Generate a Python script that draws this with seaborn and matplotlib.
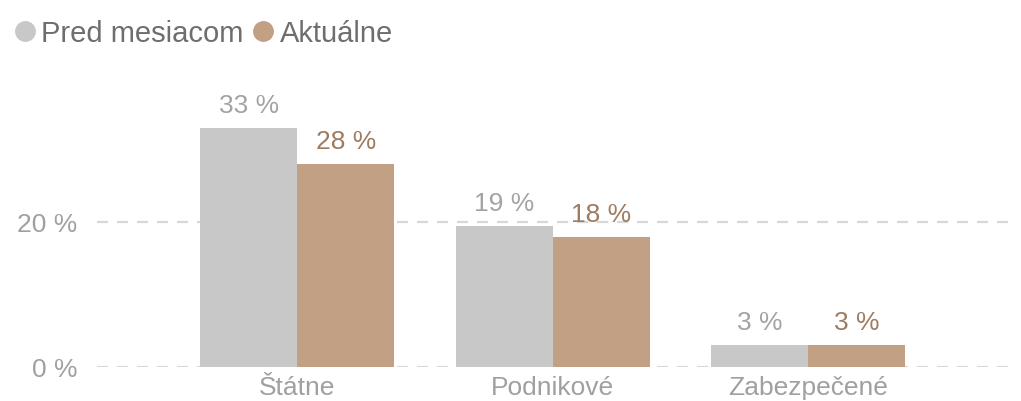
import pandas as pd
import matplotlib
matplotlib.use("Agg")
import matplotlib.pyplot as plt
from matplotlib.lines import Line2D
import seaborn as sns

# Données
categories = ["Štátne", "Podnikové", "Zabezpečené"]
pred_mesiacom = [33, 19.4, 3]
aktualne = [28, 17.9, 3]
series = ["Pred mesiacom", "Aktuálne"]
colors = ["#C8C8C8", "#C2A083"]
label_colors = ["#A3A3A3", "#9E7C60"]

df = pd.DataFrame({
    "kategoria": categories * 2,
    "hodnota": pred_mesiacom + aktualne,
    "obdobie": [series[0]] * 3 + [series[1]] * 3,
})

sns.set_theme(style="white")
plt.rcParams["font.family"] = ["Liberation Sans", "DejaVu Sans"]

fig = plt.figure(figsize=(10.21, 4.02), dpi=100)
ax = fig.add_axes([97 / 1021, 34 / 402, 918 / 1021, 290 / 402])

sns.barplot(data=df, x="kategoria", y="hodnota", hue="obdobie",
            palette=colors, width=0.76, saturation=1, ax=ax, legend=False,
            linewidth=0, zorder=2)

for cont, col in zip(ax.containers, label_colors):
    ax.bar_label(cont, labels=[f"{v:.0f} %" for v in cont.datavalues],
                 padding=8, color=col, fontsize=19)

ax.set_xlim(-0.785, 2.81)
ax.set_ylim(0, 40)
ax.set_yticks([0, 20])
ax.set_yticklabels(["0 %", "20 %"])
for y in [0, 20]:
    ax.axhline(y, color="#D8D8D8", linestyle=(0, (5, 4)), linewidth=1.6, zorder=1)
ax.tick_params(axis="both", length=0, labelsize=19, labelcolor="#A0A0A0")
ax.tick_params(axis="y", pad=14)
ax.tick_params(axis="x", pad=6)
ax.set_xlabel("")
ax.set_ylabel("")
sns.despine(ax=ax, left=True, bottom=True)

handles = [Line2D([], [], marker="o", linestyle="", markersize=14,
                  markerfacecolor=c, markeredgecolor=c) for c in colors]
fig.legend(handles, series, loc="center left", bbox_to_anchor=(-0.013, 0.915),
           frameon=False, ncol=2, fontsize=21, handletextpad=-0.05,
           columnspacing=0.1, labelcolor="#6E6E6E", handlelength=1.2,
           borderaxespad=0.3)

fig.savefig("out.png", dpi=100)
